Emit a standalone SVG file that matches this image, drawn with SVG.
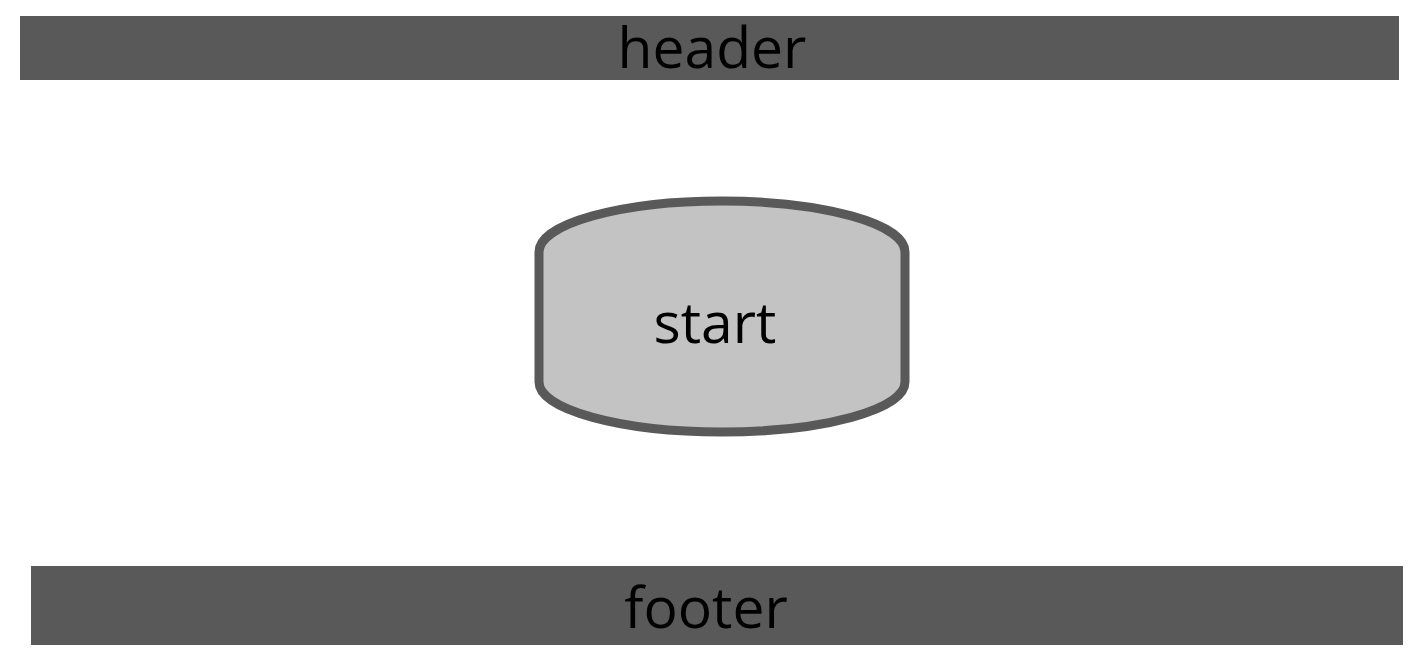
<svg xmlns="http://www.w3.org/2000/svg" width="1416" height="672" viewBox="0 0 1416 672">
<style>
.bar{fill:#595959}
.lbl{font-family:"Open Sans","Noto Sans",sans-serif;font-size:57px;fill:#000;text-anchor:middle}
.node{fill:#c3c3c3;stroke:#595959;stroke-width:9}
</style>
<rect width="1416" height="672" fill="#fff"/>
<g id="header"><rect class="bar" x="20" y="16" width="1379" height="64"/><text class="lbl" x="712" y="68">header</text></g>
<g id="start"><path class="node" d="M539,252 A183,51 0 0 1 905,252 L905,382 A183,50 0 0 1 539,382 Z"/><text class="lbl" x="715" y="343">start</text></g>
<g id="footer"><rect class="bar" x="31" y="566" width="1372" height="79"/><text class="lbl" x="706" y="628">footer</text></g>
<g id="connectors"></g>
</svg>
